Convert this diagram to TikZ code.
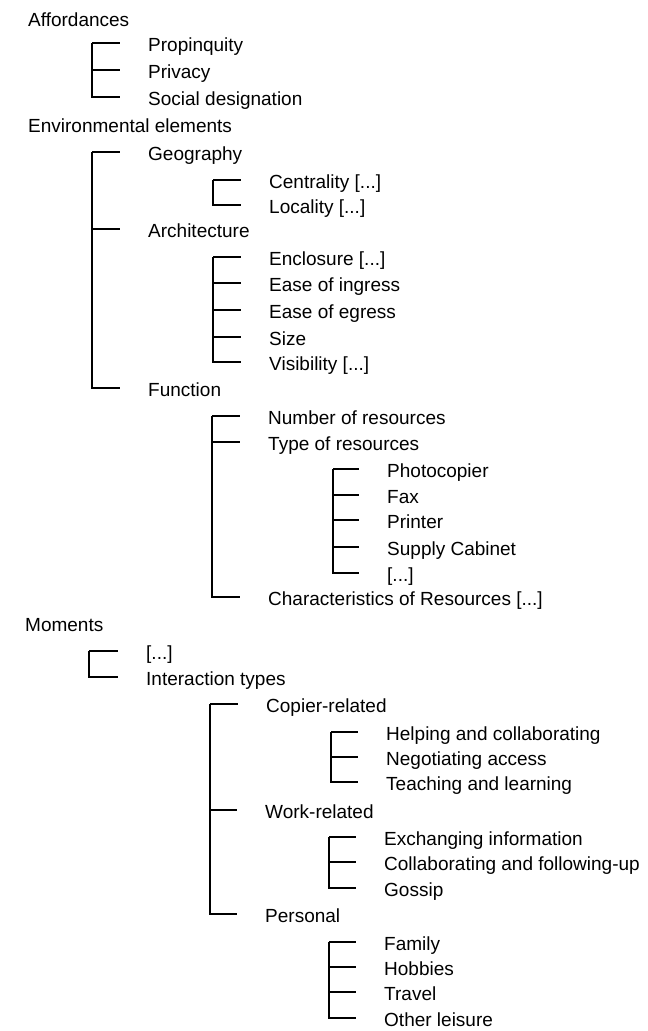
\documentclass[tikz,border=0pt]{standalone}
\usepackage{fontspec}
\setmainfont{Liberation Sans}
\begin{document}
\begin{tikzpicture}[x=1pt,y=-1pt,
  item/.style={anchor=west, inner sep=0pt, text height=19pt, text depth=3pt,
    font=\fontsize{19}{23}\selectfont},
  branch/.style={line width=1.6pt, line join=miter}]
\path[use as bounding box] (0,0) rectangle (648,1031);

% ---- Affordances
\node[item] (aff)  at (28,18)  {Affordances};
\node[item] (prop) at (148,43) {Propinquity};
\node[item] (priv) at (148,70) {Privacy};
\node[item] (soc)  at (148,97) {Social designation};

% ---- Environmental elements
\node[item] (env)   at (28,124)  {Environmental elements};
\node[item] (geo)   at (148,152) {Geography};
\node[item] (cen)   at (269,180) {Centrality [...]};
\node[item] (loc)   at (269,205) {Locality [...]};
\node[item] (arch)  at (148,229) {Architecture};
\node[item] (encl)  at (269,257) {Enclosure [...]};
\node[item] (ingr)  at (269,283) {Ease of ingress};
\node[item] (egr)   at (269,310) {Ease of egress};
\node[item] (size)  at (269,337) {Size};
\node[item] (vis)   at (269,362) {Visibility [...]};
\node[item] (func)  at (148,388) {Function};
\node[item] (num)   at (268,416) {Number of resources};
\node[item] (type)  at (268,442) {Type of resources};
\node[item] (photo) at (387,469) {Photocopier};
\node[item] (fax)   at (387,495) {Fax};
\node[item] (prn)   at (387,520) {Printer};
\node[item] (sup)   at (387,547) {Supply Cabinet};
\node[item] (tdots) at (387,573) {[...]};
\node[item] (chr)   at (268,597) {Characteristics of Resources [...]};

% ---- Moments
\node[item] (mom)    at (25,623)  {Moments};
\node[item] (mdots)  at (146,651) {[...]};
\node[item] (inter)  at (146,677) {Interaction types};
\node[item] (copier) at (266,704) {Copier-related};
\node[item] (help)   at (386,732) {Helping and collaborating};
\node[item] (nego)   at (386,757) {Negotiating access};
\node[item] (teach)  at (386,782) {Teaching and learning};
\node[item] (work)   at (265,810) {Work-related};
\node[item] (exch)   at (384,837) {Exchanging information};
\node[item] (collab) at (384,862) {Collaborating and following-up};
\node[item] (gossip) at (384,888) {Gossip};
\node[item] (pers)   at (265,914) {Personal};
\node[item] (fam)    at (384,942) {Family};
\node[item] (hob)    at (384,967) {Hobbies};
\node[item] (trav)   at (384,992) {Travel};
\node[item] (oth)    at (384,1018) {Other leisure};

% ---- trunks of the brackets
\coordinate (aff-t)    at (92,43);
\coordinate (env-t)    at (92,152);
\coordinate (geo-t)    at (213,180);
\coordinate (arch-t)   at (213,257);
\coordinate (func-t)   at (212,416);
\coordinate (type-t)   at (333,469);
\coordinate (mom-t)    at (89,651);
\coordinate (inter-t)  at (210,704);
\coordinate (copier-t) at (331,732);
\coordinate (work-t)   at (329,837);
\coordinate (pers-t)   at (329,942);

% ---- branches: trunk down, then across to just short of each label
\foreach \t/\kids in {aff-t/{prop,priv,soc},
                      env-t/{geo,arch,func},
                      geo-t/{cen,loc},
                      arch-t/{encl,ingr,egr,size,vis},
                      func-t/{num,type,chr},
                      type-t/{photo,fax,prn,sup,tdots},
                      mom-t/{mdots,inter},
                      inter-t/{copier,work,pers},
                      copier-t/{help,nego,teach},
                      work-t/{exch,collab,gossip},
                      pers-t/{fam,hob,trav,oth}}
  \foreach \k in \kids
    \draw[branch] (\t) |- ([xshift=-28pt]\k.west);
\end{tikzpicture}
\end{document}
